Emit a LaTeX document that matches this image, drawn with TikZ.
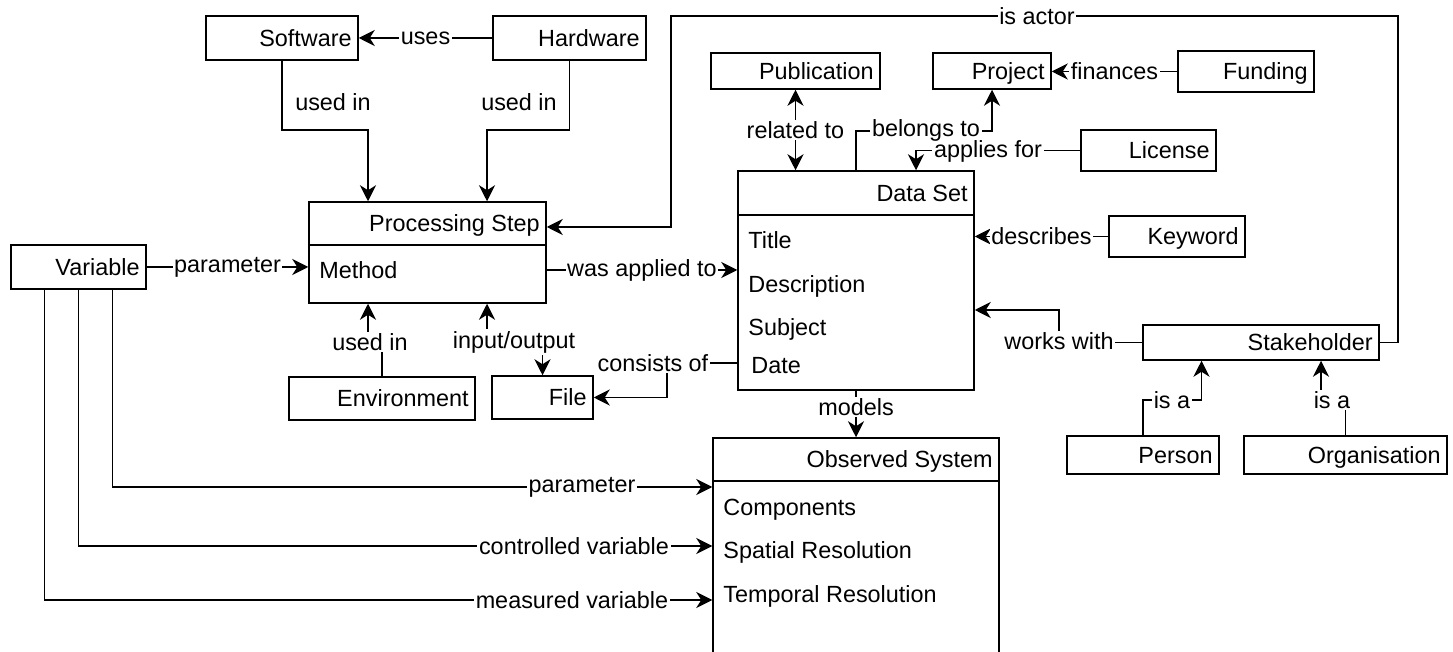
\documentclass[tikz,border=0pt]{standalone}
\usepackage{fontspec}
\setmainfont{Liberation Sans}
\usetikzlibrary{arrows.meta,calc,fit}

% simple entity: name, x1, y1, x2, y2, text (right aligned)
\newcommand\mkbox[6]{%
  \node[boxst, fit={(#2,#3) (#4,#5)}] (#1) {};
  \node[anchor=base east, inner sep=0pt] (#1-t) at ({#4-6},{(#3+#5)/2+8.4}) {#6};}
% class with compartment: name, x1, y1, x2, y2, divider y, title
\newcommand\mkclass[7]{%
  \node[boxst, fit={(#2,#3) (#4,#5)}] (#1) {};
  \draw[boxline] (#1.west |- 0,#6) -- (#1.east |- 0,#6);
  \node[anchor=base east, inner sep=0pt] (#1-t) at ({#4-6},{(#3+#6)/2+8.4}) {#7};}
% attribute line: name, x of class left edge, y centre, text
\newcommand\mkattr[4]{%
  \node[anchor=base west, inner sep=0pt] (#1) at ({#2+10},{#3+8.4}) {#4};}

\tikzset{
  boxst/.style={draw, inner sep=0pt, line width=0.75pt},
  boxline/.style={line width=0.75pt},
  conn/.style={line width=0.75pt},
  lbl/.style={fill=white, inner sep=0.8pt},
  lblfree/.style={inner sep=1pt},
  >={Stealth[length=8pt,width=8pt,inset=2.5pt]}
}

\begin{document}
\begin{tikzpicture}[x=0.5pt,y=-0.5pt,font=\fontsize{11.7}{14}\selectfont]
\path[use as bounding box, clip] (0,0) rectangle (1453,652);

% entities
\mkbox{sw}{206}{16}{358}{60}{Software}
\mkbox{hw}{493}{16}{646}{60}{Hardware}
\mkbox{pub}{711}{53}{880}{89}{Publication}
\mkbox{proj}{933}{53}{1051}{89}{Project}
\mkbox{fund}{1178}{51}{1314}{92}{Funding}
\mkbox{lic}{1081}{130}{1216}{171}{License}
\mkbox{kw}{1109}{216}{1245}{257}{Keyword}
\mkbox{sh}{1143}{325}{1379}{360}{Stakeholder}
\mkbox{per}{1067}{436}{1219}{474}{Person}
\mkbox{org}{1244}{436}{1447}{474}{Organisation}
\mkbox{var}{11}{245}{146}{289}{Variable}
\mkbox{env}{289}{377}{475}{420}{Environment}
\mkbox{file}{492}{376}{593}{419}{File}

% classes with attributes
\mkclass{ps}{309}{202}{546}{303}{245}{Processing Step}
\mkattr{ps-a1}{309}{270}{Method}

\mkclass{ds}{738}{171}{974}{390}{215}{Data Set}
\mkattr{ds-a1}{738}{240}{Title}
\mkattr{ds-a2}{738}{284}{Description}
\mkattr{ds-a3}{738}{327}{Subject}
\mkattr{ds-a4}{741}{365}{Date}

\mkclass{os}{713}{438}{999}{700}{481}{Observed System}
\mkattr{os-a1}{713}{507}{Components}
\mkattr{os-a2}{713}{550}{Spatial Resolution}
\mkattr{os-a3}{713}{594}{Temporal Resolution}

% helper points on box borders
\coordinate (psnA) at ($(ps.north)+(-59.5,0)$);
\coordinate (psnB) at ($(ps.north)+(59.5,0)$);
\coordinate (pssA) at ($(ps.south)+(-59.5,0)$);
\coordinate (pssB) at ($(ps.south)+(59.5,0)$);
\coordinate (shA) at ($(sh.south)+(-59.5,0)$);
\coordinate (shB) at ($(sh.south)+(60,0)$);
\coordinate (vA) at ($(var.south)+(34,0)$);
\coordinate (vC) at ($(var.south)+(-34,0)$);
\coordinate (mrow) at (0,270);
\coordinate (drow) at (0,363);
\coordinate (trow) at (0,227);

% software / hardware
\draw[conn,->] (hw.west) -- node[lbl] (l-uses) {uses} (sw.east);
\draw[conn,->] (sw.south) |- (psnA |- 0,130) -- (psnA);
\node[lblfree] (l-sw) at (333,102) {used in};
\draw[conn,->] (hw.south) |- (psnB |- 0,130) -- (psnB);
\node[lblfree] (l-hw) at (519,102) {used in};

% processing step links
\draw[conn,->] (var.east) -- node[lbl] (l-par) {parameter} (ps.west |- var.east);
\draw[conn,->] (ps.east |- mrow) -- node[lbl] (l-app) {was applied to} (ds.west |- mrow);
\draw[conn,->] (env.north) |- (pssA |- 0,342) -- (pssA);
\node[lbl] (l-env) at (370,342) {used in};
\draw[conn,<->] (pssB) -- (pssB |- 0,342) -| (file.north);
\node[lbl] (l-io) at (514,342) {input/output};
\draw[conn,->] (ds.west |- drow) -| (667,0 |- file.east) -- (file.east);
\node[lbl] (l-cons) at (653,363) {consists of};

% stakeholder is actor of processing step
\draw[conn,->] (sh.east) -- ++(18,0) |- (671,16) |- (ps.east |- trow);
\node[lbl] (l-actor) at (1037,16) {is actor};

% data set links
\draw[conn,<->] (pub.south) -- node[lbl] (l-rel) {related to} (ds.north -| pub.south);
\draw[conn,->] (ds.north) |- (proj.south |- 0,131) -- (proj.south);
\draw[conn,->] (lic.west) -| ($(ds.north)+(60,0)$);
\node[lbl] (l-lic) at (988,151) {applies for};
\node[lbl, text depth=0pt, anchor=base] (l-bel) at (926,137) {belongs to};
\draw[conn,->] (fund.west) -- node[lbl] (l-fin) {finances} (proj.east |- fund.west);
\draw[conn,->] (kw.west) -- node[lbl] (l-desc) {describes} (ds.east |- kw.west);
\draw[conn,->] (sh.west) -| (1059,310) -- (ds.east |- 0,310);
\node[lbl] (l-works) at (1059,341) {works with};
\draw[conn,->] (ds.south) -- node[lbl,pos=0.35] (l-mod) {models} (os.north -| ds.south);

% stakeholder kinds
\draw[conn,->] (per.north) |- (shA |- 0,400) -- (shA);
\node[lbl] (l-isa1) at (1172,400) {is a};
\draw[conn,->] (org.north) |- (shB |- 0,400) -- (shB);
\node[lbl] (l-isa2) at (1332,400) {is a};

% variable roles in the observed system
\draw[conn,->] (vA) |- (os.west |- 0,487);
\node[lbl] (l-vp) at (582,487) {parameter};
\draw[conn,->] (var.south) |- (os.west |- 0,546);
\node[lbl] (l-vc) at (574,546) {controlled variable};
\draw[conn,->] (vC) |- (os.west |- 0,600);
\node[lbl] (l-vm) at (572,600) {measured variable};
\end{tikzpicture}
\end{document}
